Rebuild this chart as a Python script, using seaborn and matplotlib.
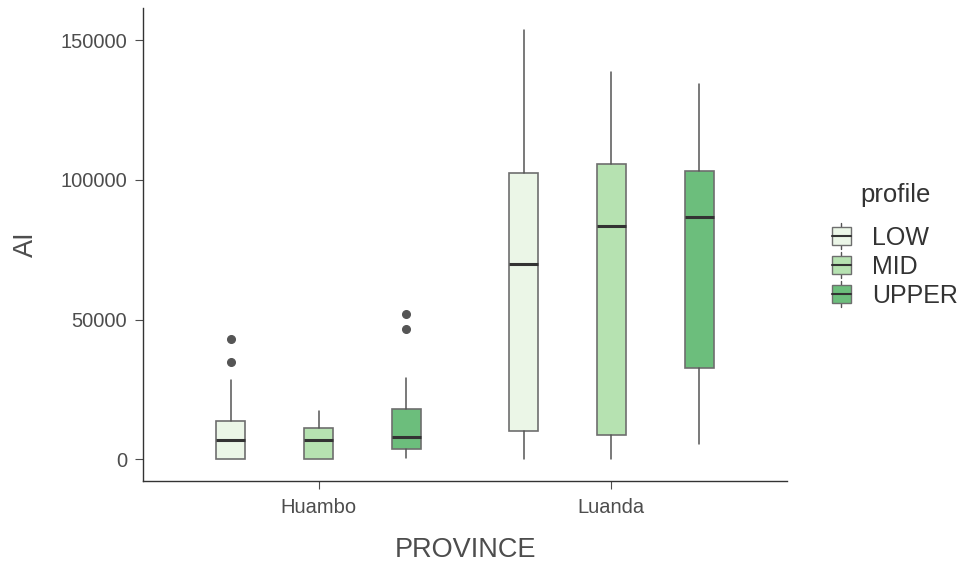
import numpy as np
import matplotlib
matplotlib.use("Agg")
import matplotlib.pyplot as plt
import seaborn as sns
from matplotlib.legend_handler import HandlerBase
from matplotlib.patches import Rectangle
from matplotlib.lines import Line2D

provinces = ["Huambo", "Luanda"]
profiles = ["LOW", "MID", "UPPER"]
colors = ["#EBF6E7", "#B6E2B1", "#6CBE7C"]

# summary stats per province, per profile (LOW, MID, UPPER)
whislo = {"Huambo": [0, 0, 500], "Luanda": [0, 0, 5700]}
q1 = {"Huambo": [0, 0, 3700], "Luanda": [10100, 8700, 32700]}
med = {"Huambo": [6800, 7100, 8100], "Luanda": [69900, 83600, 86900]}
q3 = {"Huambo": [13600, 11300, 18100], "Luanda": [102400, 105800, 103200]}
whishi = {"Huambo": [28300, 17500, 29200], "Luanda": [153800, 138700, 134400]}
fliers = {"Huambo": [[34900, 43100], [], [46800, 52000]], "Luanda": [[], [], []]}

sns.set_theme(style="ticks")
plt.rcParams["font.family"] = ["Liberation Sans", "DejaVu Sans"]

fig = plt.figure(figsize=(9.72, 5.65), dpi=100)
ax = fig.add_axes([0.1471, 0.1487, 0.6626, 0.8371])

edge = "#6E6E6E"
for i, prov in enumerate(provinces):
    for j, prof in enumerate(profiles):
        st = dict(whislo=whislo[prov][j], q1=q1[prov][j], med=med[prov][j],
                  q3=q3[prov][j], whishi=whishi[prov][j], fliers=fliers[prov][j])
        pos = i + 1 + (j - 1) * 0.3
        ax.bxp([st], positions=[pos], widths=0.1, patch_artist=True, showcaps=False,
               boxprops=dict(facecolor=colors[j], edgecolor=edge, linewidth=1.2),
               medianprops=dict(color="#333333", linewidth=2.2),
               whiskerprops=dict(color="#555555", linewidth=1.1),
               flierprops=dict(marker="o", markersize=5.5, markerfacecolor="#555555",
                               markeredgecolor="#555555"))

ax.set_xlim(0.4, 2.6)
ax.set_ylim(-7690, 161490)
ax.set_xticks([1, 2])
ax.set_xticklabels(provinces)
ax.set_yticks([0, 50000, 100000, 150000])
ax.set_yticklabels(["0", "50000", "100000", "150000"])
ax.tick_params(axis="both", labelsize=14.5, colors="#4D4D4D", length=5.5, width=0.8,
               labelcolor="#4D4D4D")
ax.tick_params(axis="y", pad=6)
ax.tick_params(axis="x", pad=7)
for s in ["left", "bottom"]:
    ax.spines[s].set_color("#333333")
    ax.spines[s].set_linewidth(1.0)
sns.despine(ax=ax)
ax.set_xlabel("PROVINCE", fontsize=19.5, color="#4D4D4D", labelpad=14)
ax.set_ylabel("AI", fontsize=19.5, color="#4D4D4D", labelpad=15)


class BoxHandler(HandlerBase):
    def __init__(self, fc):
        super().__init__()
        self.fc = fc

    def create_artists(self, legend, orig_handle, xdescent, ydescent, width, height, fontsize, trans):
        cx = width / 2 - xdescent
        bw = width
        bh = height
        y0 = -ydescent
        rect = Rectangle((cx - bw / 2, y0), bw, bh, facecolor=self.fc, edgecolor=edge,
                         linewidth=1.0, transform=trans)
        m = Line2D([cx - bw / 2, cx + bw / 2], [y0 + bh / 2, y0 + bh / 2], color="#333333",
                   linewidth=1.5, transform=trans)
        w1 = Line2D([cx, cx], [y0 - 3, y0], color="#555555", linewidth=1.0, transform=trans)
        w2 = Line2D([cx, cx], [y0 + bh, y0 + bh + 3], color="#555555", linewidth=1.0, transform=trans)
        return [w1, w2, rect, m]


handles = [Rectangle((0, 0), 1, 1) for _ in profiles]
leg = fig.legend(handles, profiles, loc="upper left",
                 bbox_to_anchor=(832 / 972, 1 - 226 / 565), frameon=False, fontsize=18,
                 handlelength=0.75, handleheight=0.72,
                 handletextpad=0.85, labelspacing=0.2, borderpad=0, borderaxespad=0,
                 handler_map={h: BoxHandler(c) for h, c in zip(handles, colors)})
for t in leg.get_texts():
    t.set_color("#333333")
fig.text(896 / 972, 1 - 195 / 565, "profile", fontsize=18.5, color="#333333",
         ha="center", va="center")

fig.savefig("out.png", dpi=100)
